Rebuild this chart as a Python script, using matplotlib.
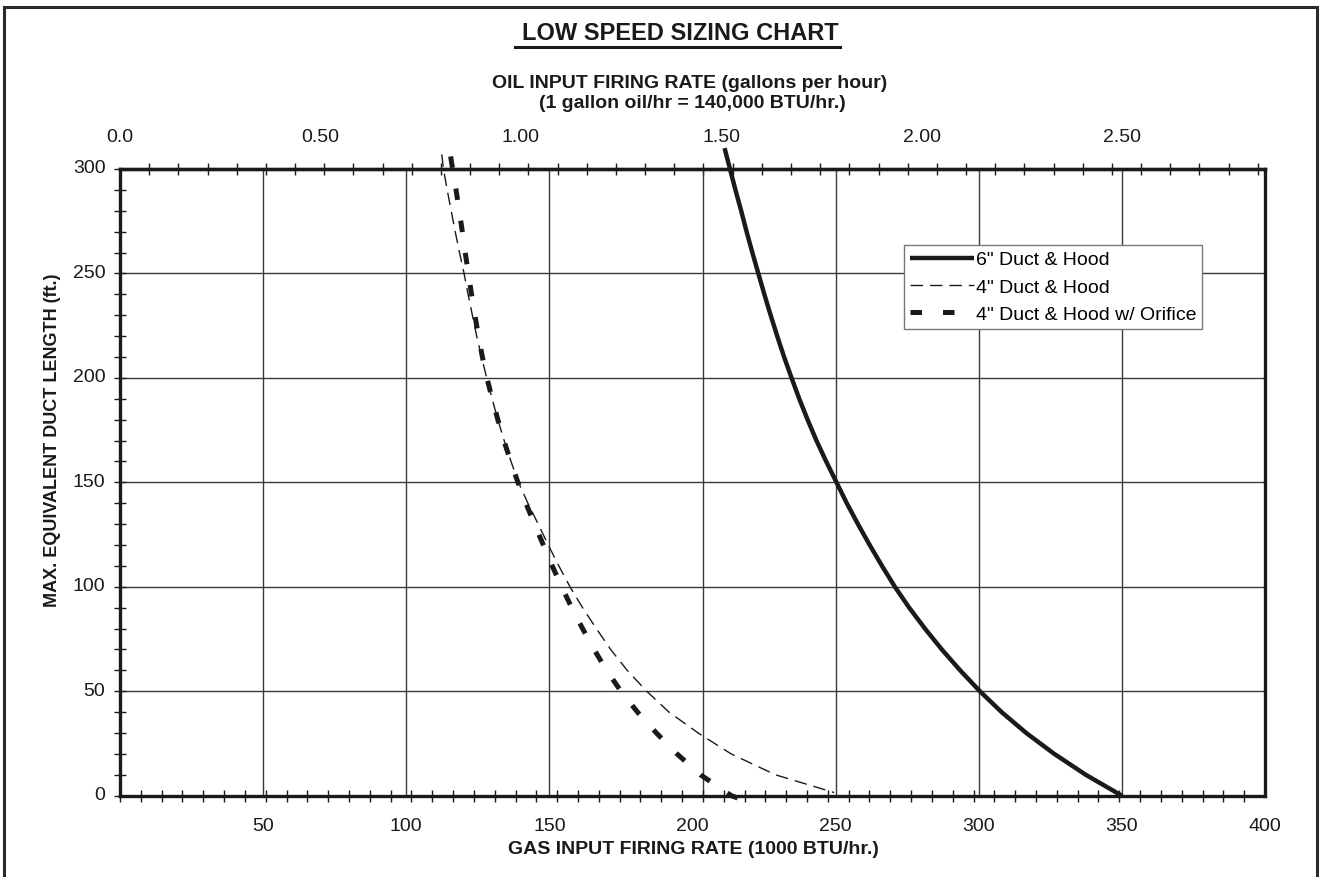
import numpy as np
import matplotlib
matplotlib.use('Agg')
import matplotlib.pyplot as plt
from matplotlib.lines import Line2D
from matplotlib.patches import Rectangle
from matplotlib.transforms import ScaledTranslation

plt.rcParams['font.family'] = ['Liberation Sans', 'DejaVu Sans']

# curves: gas input (1000 BTU/hr) vs max duct length (ft)
gas_6in = [211.2, 213.1, 215.0, 217.0, 218.9, 220.9, 223.0, 225.1, 227.3, 229.6, 232.0,
           234.6, 237.3, 240.2, 243.3, 246.7, 250.3, 253.9, 257.8, 261.9, 266.2, 270.7,
           275.7, 281.2, 287.1, 293.5, 300.4, 308.0, 316.6, 326.4, 337.4, 350.0]
len_6in = [310, 300, 290, 280, 270, 260, 250, 240, 230, 220, 210,
           200, 190, 180, 170, 160, 150, 140, 130, 120, 110, 100,
           90, 80, 70, 60, 50, 40, 30, 20, 10, 0]

gas_4in = [112.4, 113.0, 114.3, 115.7, 117.1, 118.6, 120.2, 121.6, 123.1, 124.6, 126.3,
           128.1, 130.0, 132.0, 134.2, 136.6, 139.2, 142.5, 146.1, 149.6, 153.3, 157.2,
           161.6, 166.4, 171.4, 177.2, 184.0, 191.8, 202.0, 213.5, 229.0, 249.5]
len_4in = [307, 300, 290, 280, 270, 260, 250, 240, 230, 220, 210,
           200, 190, 180, 170, 160, 150, 140, 130, 120, 110, 100,
           90, 80, 70, 60, 50, 40, 30, 20, 10, 1.5]

gas_4or = [115.5, 116.2, 117.4, 118.5, 119.6, 120.6, 121.7, 122.8, 124.0, 125.2, 126.6,
           128.2, 130.0, 132.0, 134.1, 136.5, 139.0, 141.8, 144.8, 147.9, 151.0, 154.3,
           157.8, 161.6, 165.6, 170.0, 175.0, 180.8, 187.4, 194.6, 202.8, 213.6, 221.8]
len_4or = [306, 300, 290, 280, 270, 260, 250, 240, 230, 220, 210,
           200, 190, 180, 170, 160, 150, 140, 130, 120, 110, 100,
           90, 80, 70, 60, 50, 40, 30, 20, 10, 0, -4.2]

labels = ['6" Duct & Hood', '4" Duct & Hood', '4" Duct & Hood w/ Orifice']

gas_ticks = [50, 100, 150, 200, 250, 300, 350, 400]
len_ticks = [0, 50, 100, 150, 200, 250, 300]
oil_ticks = [0.0, 0.5, 1.0, 1.5, 2.0, 2.5]
oil_tick_labels = ['0.0', '0.50', '1.00', '1.50', '2.00', '2.50']
BTU_PER_GAL = 140.0   # 1 gallon oil/hr = 140,000 BTU/hr

INK = '#1a1a1a'
GRID = '#3a3a3a'

fig = plt.figure(figsize=(13.24, 8.78), dpi=100)
W, H = 1324, 878
ax = fig.add_axes([120 / W, 1 - 796.7 / H, 1145 / W, 626.7 / H])

ax.set_xlim(0, 400)
ax.set_ylim(0, 300)

# grid (excel put the 200 line a bit off, keep it that way)
for gx in [50, 100, 150, 203.6, 250, 300, 350]:
    ax.axvline(gx, color=GRID, lw=1.0, zorder=1)
for gy in [50, 100, 150, 200, 250]:
    ax.axhline(gy, color=GRID, lw=1.0, zorder=1)

ax.plot(gas_6in, len_6in, color=INK, lw=3.2, clip_on=False, zorder=5,
        solid_capstyle='butt', solid_joinstyle='round', label=labels[0])
ax.plot(gas_4in, len_4in, color=INK, lw=1.0, dashes=(9, 5), clip_on=False,
        zorder=5, label=labels[1])
ax.plot(gas_4or, len_4or, color=INK, lw=3.6, dashes=(2.3, 4.2), dash_capstyle='butt',
        clip_on=False, zorder=5, label=labels[2])

for sp in ax.spines.values():
    sp.set_linewidth(2.4)
    sp.set_color(INK)

# bottom axis
ax.set_xticks(gas_ticks)
ax.set_xticklabels([str(v) for v in gas_ticks])
ax.set_xticks(np.linspace(0, 400, 56), minor=True)
ax.tick_params(axis='x', which='major', length=0, pad=15, labelsize=14, colors=INK)
ax.tick_params(axis='x', which='minor', direction='inout', length=9, width=1, colors=INK)

# left axis
ax.set_yticks(len_ticks)
ax.set_yticklabels([str(v) for v in len_ticks])
ax.set_yticks(np.arange(0, 301, 10), minor=True)
ax.tick_params(axis='y', which='both', direction='inout', length=9, width=1, colors=INK)
ax.tick_params(axis='y', which='major', pad=6, labelsize=14)
nudge = ScaledTranslation(0, 3 / 100, fig.dpi_scale_trans)
for t in ax.get_yticklabels():
    t.set_transform(t.get_transform() + nudge)

# top oil axis
top = ax.secondary_xaxis('top', functions=(lambda g: g / BTU_PER_GAL,
                                           lambda o: o * BTU_PER_GAL))
top.set_xticks(oil_ticks)
top.set_xticklabels(oil_tick_labels)
top.set_xticks(np.arange(0, 2.86, 0.0728), minor=True)
top.tick_params(axis='x', which='major', length=0, pad=17, labelsize=14, colors=INK)
top.tick_params(axis='x', which='minor', direction='inout', length=9, width=1, colors=INK)
top.spines['top'].set_linewidth(2.4)
top.spines['top'].set_color(INK)

leg = ax.legend(loc='upper left', bbox_to_anchor=(0.6847, 0.8787), fontsize=14,
                frameon=True, fancybox=False, edgecolor='#777777', framealpha=1,
                handlelength=3.3, handletextpad=0.1, labelspacing=0.5,
                borderpad=0.3, borderaxespad=0)
leg.get_frame().set_linewidth(1.0)
leg.set_zorder(10)

# titles
title = fig.text(680 / W, 1 - 33 / H, 'LOW SPEED SIZING CHART', ha='center', va='center',
                 fontsize=17, fontweight='bold', color=INK)
fig.text(690 / W, 1 - 83 / H, 'OIL INPUT FIRING RATE (gallons per hour)', ha='center',
         va='center', fontsize=14, fontweight='bold', color=INK)
fig.text(692 / W, 1 - 104 / H, '(1 gallon oil/hr = 140,000 BTU/hr.)', ha='center',
         va='center', fontsize=14, fontweight='bold', color=INK)
fig.text(693 / W, 1 - 850 / H, 'GAS INPUT FIRING RATE (1000 BTU/hr.)', ha='center',
         va='center', fontsize=14, fontweight='bold', color=INK)
fig.text(53 / W, 1 - 440 / H, 'MAX. EQUIVALENT DUCT LENGTH (ft.)', ha='center',
         va='center', rotation=90, fontsize=13, fontweight='bold', color=INK)

# underline under the title
fig.canvas.draw()
bb = title.get_window_extent().transformed(fig.transFigure.inverted())
fig.add_artist(Line2D([bb.x0 - 0.005, bb.x1 + 0.001], [bb.y0 - 0.004] * 2,
                      transform=fig.transFigure, color=INK, lw=2.2))

# outer frame
fig.add_artist(Rectangle((4 / W, -0.02), 1313 / W, 1.02 - 8 / H, transform=fig.transFigure,
                         fill=False, edgecolor='#2a2a2a', lw=2.2))

fig.savefig('out.png', dpi=100)
